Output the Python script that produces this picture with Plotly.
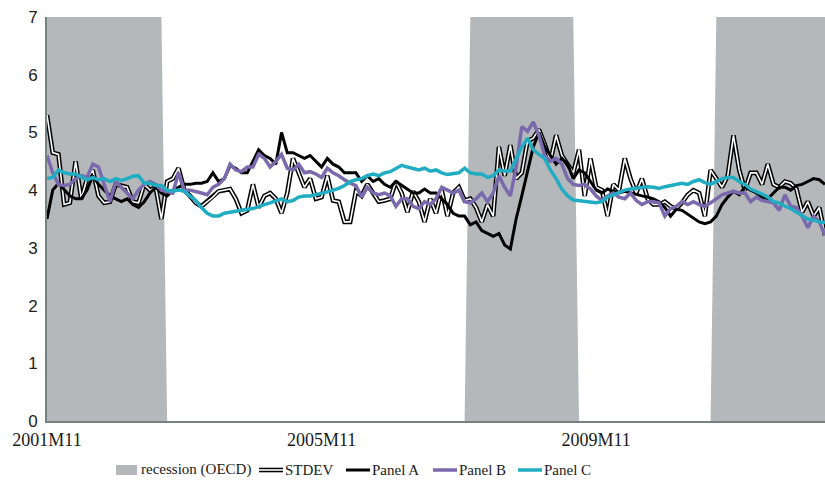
import plotly.graph_objects as go

# Monthly observations, 2001M11 .. 2013M3
start_year, start_month, n_months = 2001, 11, 137
months = []
for k in range(n_months):
    m = start_month - 1 + k
    months.append(f"{start_year + m // 12}M{m % 12 + 1}")

tick_labels = ["2001M11", "2005M11", "2009M11"]

# OECD recession periods (first and last month, inclusive)
recession_periods = [("2001M11", "2003M7"), ("2008M1", "2009M7"), ("2011M8", "2013M3")]
AXIS_TOP = 7

stdev = [
    5.3, 4.65, 4.62, 3.75, 3.78, 4.5, 3.85, 4.2, 4.35, 3.9, 3.78, 3.8, 4.1, 4.08, 4.05, 3.8, 3.78, 4.1, 4.0, 4.05, 3.5, 4.15,
    4.2, 4.38, 4.0, 3.9, 3.78, 3.72, 3.8, 3.88, 3.98, 4.0, 4.02, 3.85, 3.6, 3.65, 4.1, 3.7, 3.9, 3.95, 3.85, 3.6, 3.95, 4.55, 4.3, 4.05,
    4.2, 3.85, 3.88, 4.25, 3.82, 3.8, 3.45, 3.45, 3.98, 3.9, 4.1, 3.95, 3.8, 3.82, 3.85, 4.15, 3.95, 3.62, 3.98, 3.8, 3.45, 3.85,
    3.6, 4.0, 3.55, 3.95, 4.05, 3.82, 3.85, 3.7, 3.45, 3.75, 3.55, 4.75, 4.25, 4.78, 4.2, 4.3, 4.85, 4.9, 5.05, 4.8, 4.5, 4.95, 4.6,
    4.45, 4.3, 4.7, 3.9, 4.55, 4.05, 4.0, 3.55, 4.1, 4.0, 4.55, 4.2, 3.95, 4.2, 3.85, 3.75, 3.75, 3.8, 3.72, 3.68, 3.78, 3.92, 4.0,
    3.95, 3.55, 4.35, 4.2, 4.05, 4.25, 4.95, 4.35, 4.0, 4.3, 4.3, 4.1, 4.45, 4.1, 4.05, 4.15, 4.12, 4.02, 3.62, 3.8, 3.55, 3.7, 3.22,
]

panel_a = [
    3.5, 4.0, 4.12, 4.0, 3.9, 3.85, 3.85, 4.0, 4.25, 4.1, 4.0, 3.9, 3.85, 3.8, 3.85, 3.75, 3.7, 3.8, 3.95, 4.05, 3.95, 3.9,
    4.0, 4.05, 4.1, 4.1, 4.12, 4.12, 4.15, 4.3, 4.15, 4.2, 4.42, 4.38, 4.3, 4.3, 4.5, 4.7, 4.6, 4.55, 4.45, 5.0, 4.65, 4.65, 4.6, 4.55,
    4.6, 4.5, 4.4, 4.55, 4.45, 4.4, 4.3, 4.3, 4.3, 4.15, 4.25, 4.15, 4.2, 4.1, 4.05, 4.15, 4.08, 4.02, 3.95, 3.95, 4.02, 3.95,
    3.95, 3.85, 3.75, 3.6, 3.55, 3.55, 3.4, 3.45, 3.3, 3.25, 3.2, 3.25, 3.05, 2.98, 3.5, 3.9, 4.3, 4.75, 5.0, 4.75, 4.6, 4.45, 4.55,
    4.45, 4.2, 4.35, 4.3, 4.15, 4.0, 3.95, 4.02, 3.98, 3.95, 3.98, 3.95, 3.93, 3.9, 3.88, 3.85, 3.8, 3.7, 3.55, 3.67, 3.65, 3.58, 3.52,
    3.45, 3.42, 3.45, 3.55, 3.75, 3.88, 3.98, 3.92, 4.05, 4.0, 3.95, 3.88, 3.85, 3.95, 4.05, 4.05, 4.0, 4.08, 4.1, 4.15, 4.2, 4.18, 4.1,
]

panel_b = [
    4.6, 4.3, 4.1, 4.08, 4.1, 4.2, 4.25, 4.22, 4.45, 4.4, 4.1, 3.8, 4.15, 4.05, 3.95, 3.85, 4.0, 4.1, 4.15, 4.1, 4.0, 3.98, 3.95,
    4.3, 4.0, 4.0, 3.98, 3.95, 3.92, 4.05, 4.1, 4.2, 4.45, 4.35, 4.32, 4.4, 4.4, 4.62, 4.55, 4.4, 4.5, 4.62, 4.38, 4.35, 4.45, 4.3,
    4.32, 4.28, 4.22, 4.38, 4.3, 4.25, 4.18, 4.12, 4.08, 3.88, 4.05, 3.95, 3.92, 3.95, 3.9, 3.72, 3.85, 3.85, 3.72, 3.68, 3.8, 3.75,
    3.85, 4.05, 4.0, 3.95, 4.0, 3.8, 3.78, 3.85, 3.95, 3.8, 3.95, 4.25, 4.05, 3.9, 4.4, 5.1, 5.02, 5.18, 4.95, 4.6, 4.5, 4.55, 4.45,
    4.2, 4.1, 4.08, 4.1, 4.02, 3.9, 3.82, 3.9, 3.95, 3.88, 3.85, 3.95, 3.82, 3.75, 3.8, 3.8, 3.78, 3.55, 3.68, 3.72, 3.8, 3.75, 3.8,
    3.75, 3.72, 3.78, 3.85, 3.92, 3.95, 3.98, 3.95, 3.95, 3.8, 3.88, 3.82, 3.8, 3.78, 3.65, 3.92, 3.72, 3.7, 3.55, 3.35, 3.55, 3.45, 3.22,
]

panel_c = [
    4.2, 4.22, 4.35, 4.3, 4.28, 4.28, 4.23, 4.18, 4.22, 4.18, 4.2, 4.15, 4.2, 4.17, 4.2, 4.24, 4.25, 4.12, 4.12, 4.08, 4.08, 4.0, 3.98,
    4.0, 3.98, 3.9, 3.82, 3.7, 3.6, 3.55, 3.55, 3.6, 3.62, 3.63, 3.65, 3.67, 3.68, 3.72, 3.75, 3.78, 3.82, 3.85, 3.8, 3.82, 3.88, 3.9,
    3.9, 3.92, 3.95, 3.97, 4.0, 4.03, 4.08, 4.15, 4.18, 4.2, 4.25, 4.28, 4.25, 4.3, 4.32, 4.38, 4.43, 4.4, 4.37, 4.35, 4.38, 4.33,
    4.35, 4.3, 4.27, 4.28, 4.3, 4.38, 4.3, 4.28, 4.28, 4.22, 4.25, 4.35, 4.33, 4.33, 4.55, 4.75, 4.9, 4.7, 4.62, 4.55, 4.35, 4.2, 4.02,
    3.9, 3.83, 3.82, 3.8, 3.8, 3.78, 3.8, 3.88, 3.92, 3.96, 4.0, 4.02, 4.03, 4.04, 4.06, 4.05, 4.03, 4.06, 4.08, 4.1, 4.12, 4.1, 4.15,
    4.18, 4.13, 4.1, 4.15, 4.2, 4.22, 4.22, 4.15, 4.1, 4.02, 3.98, 3.93, 3.88, 3.8, 3.78, 3.72, 3.68, 3.62, 3.57, 3.5, 3.48, 3.45, 3.44,
]

# Recession indicator per month: full axis height inside a period, zero outside
month_pos = {m: i for i, m in enumerate(months)}
recession = [0] * n_months
for first, last in recession_periods:
    for i in range(month_pos[first], month_pos[last] + 1):
        recession[i] = AXIS_TOP

GREY = "#b5b8bb"
BLACK = "#000000"
PURPLE = "#7b69ad"
CYAN = "#20adc3"
AXIS = "#77817f"
SERIF = "Liberation Serif, Times New Roman, serif"
SANS = "Liberation Sans, Arial, sans-serif"

fig = go.Figure()

fig.add_trace(go.Scatter(x=months, y=recession, mode="lines", fill="tozeroy",
                         fillcolor=GREY, line=dict(width=0, color=GREY),
                         name="recession (OECD)", hoverinfo="skip"))
# Double line: wide black stroke with a thin white core
fig.add_trace(go.Scatter(x=months, y=stdev, mode="lines",
                         line=dict(color=BLACK, width=4.6), name="STDEV"))
fig.add_trace(go.Scatter(x=months, y=stdev, mode="lines",
                         line=dict(color="white", width=1.6), name="STDEV core",
                         hoverinfo="skip"))
fig.add_trace(go.Scatter(x=months, y=panel_a, mode="lines",
                         line=dict(color=BLACK, width=3), name="Panel A"))
fig.add_trace(go.Scatter(x=months, y=panel_b, mode="lines",
                         line=dict(color=PURPLE, width=3.5), name="Panel B"))
fig.add_trace(go.Scatter(x=months, y=panel_c, mode="lines",
                         line=dict(color=CYAN, width=3.5), name="Panel C"))

# Layout geometry (pixels) used to place the legend below the plot
W, H = 825, 486
L, R, T, B = 47, 0, 17, 65
plot_w = W - L - R
plot_h = H - T - B


def px(x):
    return (x - L) / plot_w


def py(y):
    return (H - B - y) / plot_h


shapes = []
annotations = []
ly = 470
shapes.append(dict(type="rect", xref="paper", yref="paper",
                   x0=px(116), x1=px(137), y0=py(475), y1=py(465),
                   fillcolor=GREY, line=dict(width=0)))
legend_lines = [
    (259, 283, BLACK, 4.6),
    (259, 283, "white", 1.6),
    (346, 370, BLACK, 3),
    (433, 457, PURPLE, 3.5),
    (518, 542, CYAN, 3.5),
]
for x0, x1, col, w in legend_lines:
    shapes.append(dict(type="line", xref="paper", yref="paper",
                       x0=px(x0), x1=px(x1), y0=py(ly), y1=py(ly),
                       line=dict(color=col, width=w)))
legend_texts = [
    (139, "recession (OECD)"),
    (283, "STDEV"),
    (370, "Panel A"),
    (457, "Panel B"),
    (542, "Panel C"),
]
for x, txt in legend_texts:
    annotations.append(dict(xref="paper", yref="paper", x=px(x), y=py(ly),
                            text=txt, showarrow=False, xanchor="left",
                            yanchor="middle",
                            font=dict(family=SERIF, size=15, color="#1a1a1a")))

fig.update_layout(
    width=W, height=H,
    margin=dict(l=L, r=R, t=T, b=B),
    plot_bgcolor="white", paper_bgcolor="white",
    showlegend=False,
    shapes=shapes,
    annotations=annotations,
    xaxis=dict(type="category", range=[0, n_months - 1],
               tickmode="array", tickvals=tick_labels, ticktext=tick_labels,
               showgrid=False, zeroline=False, showline=True,
               linecolor=AXIS, linewidth=2, ticks="",
               ticklabelstandoff=1,
               tickfont=dict(family=SERIF, size=18, color="#1a1a1a")),
    yaxis=dict(range=[0, 7], dtick=1, showgrid=False, zeroline=False,
               showline=True, linecolor=AXIS, linewidth=2, ticks="",
               ticklabelstandoff=4,
               tickfont=dict(family=SANS, size=17, color="#222222")),
)

fig.write_html("out.html")
